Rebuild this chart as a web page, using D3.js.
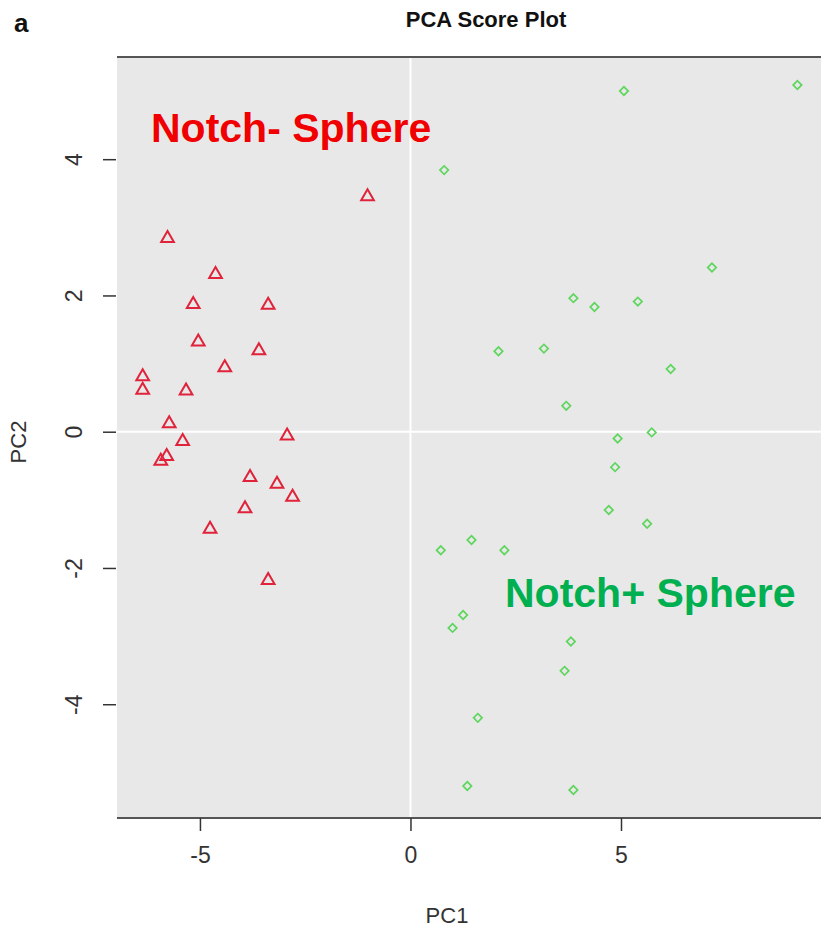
<!DOCTYPE html>
<html>
<head>
<meta charset="utf-8">
<script src="https://cdn.jsdelivr.net/npm/d3@7"></script>
<style>
  html, body { margin: 0; padding: 0; background: #ffffff; }
  svg { display: block; }
  text { font-family: "Liberation Sans", Arial, sans-serif; }
</style>
</head>
<body>
<div id="chart"></div>
<script>
// PCA scores, Notch- spheres (triangles)
const negPC1 = [-1.02, -5.77, -4.63, -5.16, -3.38, -5.04, -3.60, -4.41, -6.36, -6.36, -5.33,
                -5.73, -2.93, -5.41, -5.79, -5.93, -3.81, -3.17, -2.80, -3.93, -4.76, -3.38];
const negPC2 = [3.45, 2.84, 2.31, 1.87, 1.86, 1.32, 1.19, 0.94, 0.81, 0.61, 0.60,
                0.12, -0.06, -0.14, -0.36, -0.43, -0.67, -0.77, -0.96, -1.13, -1.43, -2.18];

// PCA scores, Notch+ spheres (diamonds)
const posPC1 = [5.07, 9.19, 0.80, 7.16, 3.87, 4.37, 5.40, 2.09, 3.17, 6.18, 3.70, 4.92, 5.73,
                4.86, 4.71, 5.62, 1.45, 0.72, 2.23, 1.25, 1.00, 3.81, 3.66, 1.60, 1.35, 3.87];
const posPC2 = [5.00, 5.09, 3.84, 2.41, 1.96, 1.83, 1.91, 1.18, 1.22, 0.92, 0.38, -0.10, -0.01,
                -0.52, -1.15, -1.35, -1.59, -1.74, -1.74, -2.69, -2.88, -3.08, -3.51, -4.20, -5.20, -5.26];

const xTicks = [-5, 0, 5];
const yTicks = [-4, -2, 0, 2, 4];
const xDomain = [-6.97, 9.75];
const yDomain = [-5.67, 5.50];

const groupLabels = ["Notch- Sphere", "Notch+ Sphere"];
const titleText = "PCA Score Plot";
const panelTag = "a";

const W = 822, H = 934;
const plot = { left: 117, right: 821, top: 57, bottom: 818 };
const tickFmt = d => String(d);   // plain hyphen-minus, as base graphics prints it

const svg = d3.select("#chart").append("svg")
  .attr("width", W).attr("height", H);

const x = d3.scaleLinear().domain(xDomain).range([plot.left, plot.right]);
const y = d3.scaleLinear().domain(yDomain).range([plot.bottom, plot.top]);

// panel background
svg.append("rect")
  .attr("x", plot.left).attr("y", plot.top)
  .attr("width", plot.right - plot.left).attr("height", plot.bottom - plot.top)
  .attr("fill", "#e8e8e8");

// white reference lines through the origin
svg.append("line")
  .attr("x1", x(0)).attr("x2", x(0)).attr("y1", plot.top).attr("y2", plot.bottom)
  .attr("stroke", "#ffffff").attr("stroke-width", 2);
svg.append("line")
  .attr("x1", plot.left).attr("x2", plot.right).attr("y1", y(0)).attr("y2", y(0))
  .attr("stroke", "#ffffff").attr("stroke-width", 2);

// top rule
svg.append("line")
  .attr("x1", plot.left).attr("x2", plot.right).attr("y1", plot.top).attr("y2", plot.top)
  .attr("stroke", "#555555").attr("stroke-width", 2);

// x axis
const xAxis = svg.append("g")
  .attr("transform", `translate(0,${plot.bottom})`)
  .call(d3.axisBottom(x).tickValues(xTicks).tickSize(13).tickPadding(16).tickSizeOuter(0)
        .tickFormat(tickFmt));
xAxis.select(".domain").attr("stroke", "#555555").attr("stroke-width", 2)
  .attr("d", `M${plot.left},0H${plot.right}`);
xAxis.selectAll(".tick line").attr("stroke", "#333333").attr("stroke-width", 1.5);
xAxis.selectAll(".tick text").attr("font-size", 23).attr("fill", "#333333")
  .attr("font-family", "Liberation Sans, Arial, sans-serif");

// y axis (labels parallel to the axis)
const yAxis = svg.append("g")
  .attr("transform", `translate(${plot.left - 1},0)`)
  .call(d3.axisLeft(y).tickValues(yTicks).tickSize(13).tickSizeOuter(0)
        .tickFormat(tickFmt));
yAxis.select(".domain").remove();
yAxis.selectAll(".tick line").attr("stroke", "#333333").attr("stroke-width", 1.5);
yAxis.selectAll(".tick text")
  .attr("font-size", 23).attr("fill", "#333333")
  .attr("font-family", "Liberation Sans, Arial, sans-serif")
  .attr("x", null).attr("dy", null)
  .attr("text-anchor", "middle")
  .attr("transform", "translate(-34,0) rotate(-90)");

// axis titles
svg.append("text")
  .attr("x", 447).attr("y", 923)
  .attr("text-anchor", "middle").attr("font-size", 22).attr("fill", "#333333")
  .text("PC1");
svg.append("text")
  .attr("transform", `translate(26,442) rotate(-90)`)
  .attr("text-anchor", "middle").attr("font-size", 22).attr("fill", "#333333")
  .text("PC2");

// main title and panel tag
svg.append("text")
  .attr("x", 486).attr("y", 27)
  .attr("text-anchor", "middle").attr("font-size", 22).attr("font-weight", "bold")
  .attr("fill", "#111111")
  .text(titleText);
svg.append("text")
  .attr("x", 14).attr("y", 32)
  .attr("font-size", 26).attr("font-weight", "bold").attr("fill", "#111111")
  .text(panelTag);

// Notch- points
const tri = d3.symbol().type(d3.symbolTriangle).size(70);
svg.append("g").selectAll("path")
  .data(negPC1.map((v, i) => [v, negPC2[i]]))
  .join("path")
  .attr("d", tri)
  .attr("transform", d => `translate(${x(d[0])},${y(d[1])})`)
  .attr("fill", "none").attr("stroke", "#e0223a").attr("stroke-width", 2);

// Notch+ points
const dia = d3.symbol().type(d3.symbolSquare).size(36);
svg.append("g").selectAll("path")
  .data(posPC1.map((v, i) => [v, posPC2[i]]))
  .join("path")
  .attr("d", dia)
  .attr("transform", d => `translate(${x(d[0])},${y(d[1])}) rotate(45)`)
  .attr("fill", "none").attr("stroke", "#5ed65e").attr("stroke-width", 1.7);

// group annotations
svg.append("text")
  .attr("x", 151).attr("y", 142)
  .attr("font-size", 41).attr("font-weight", "bold").attr("fill", "#f00000")
  .text(groupLabels[0]);
svg.append("text")
  .attr("x", 505).attr("y", 607)
  .attr("font-size", 41).attr("font-weight", "bold").attr("fill", "#00b050")
  .text(groupLabels[1]);
</script>
</body>
</html>
